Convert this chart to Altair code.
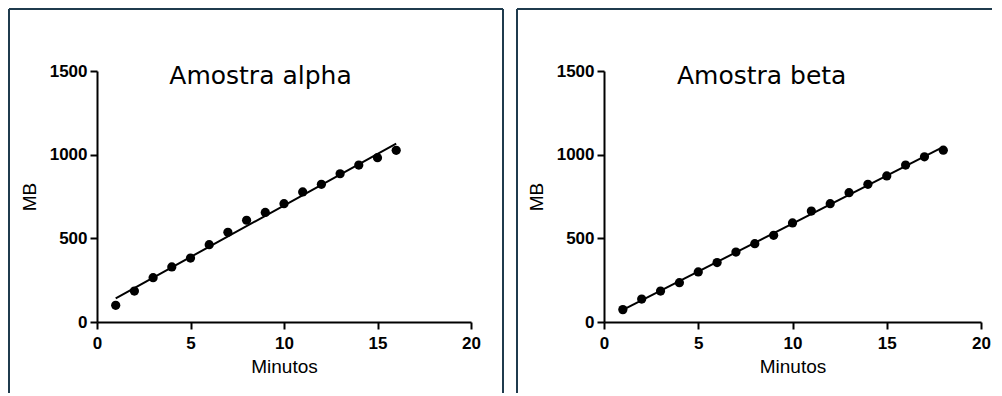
import altair as alt
import pandas as pd

# ---- data ----
alpha_min = [1, 2, 3, 4, 5, 6, 7, 8, 9, 10, 11, 12, 13, 14, 15, 16]
alpha_mb = [100, 185, 265, 329, 382, 462, 536, 608, 655, 707, 777, 823, 886, 938, 982, 1026]

beta_min = [1, 2, 3, 4, 5, 6, 7, 8, 9, 10, 11, 12, 13, 14, 15, 16, 17, 18]
beta_mb = [74, 137, 185, 235, 299, 355, 418, 468, 518, 592, 663, 707, 773, 823, 873, 938, 987, 1027]

titles = ["Amostra alpha", "Amostra beta"]
x_ticks = [0, 5, 10, 15, 20]
y_ticks = [0, 500, 1000, 1500]
x_title = "Minutos"
y_title = "MB"

FRAME = "#1f3b4d"
LABEL_FONT = "Liberation Sans"
BOTTOM = 322


def panel(xs, ys, title, width, title_x, frame_left, frame_right, top_end):
    df = pd.DataFrame({"Minutos": xs, "MB": ys})
    base = alt.Chart(df)
    xenc = alt.X(
        "Minutos:Q",
        scale=alt.Scale(domain=[0, 20], nice=False, zero=True),
        axis=alt.Axis(values=x_ticks, title=x_title, format="d", labelFlush=False,
                      labelPadding=6, titlePadding=6),
    )
    yenc = alt.Y(
        "MB:Q",
        scale=alt.Scale(domain=[0, 1500], nice=False),
        axis=alt.Axis(values=y_ticks, title=y_title, format="d", labelFlush=False,
                      labelPadding=3, titlePadding=10),
    )
    pts = base.mark_circle(size=85, color="black", opacity=1).encode(x=xenc, y=yenc)
    fit = (
        base.transform_regression("Minutos", "MB", extent=[xs[0], xs[-1]])
        .mark_line(color="black", strokeWidth=2)
        .encode(x="Minutos:Q", y="MB:Q")
    )
    one = alt.Data(values=[{"t": title}])
    ttl = alt.Chart(one).mark_text(
        align="center", baseline="alphabetic", fontSize=25, font="DejaVu Sans", color="black"
    ).encode(x=alt.value(title_x), y=alt.value(13), text="t:N")
    layers = [fit, pts, ttl]
    # panel frame (decoration)
    top = alt.Chart(one).mark_rule(color=FRAME, strokeWidth=2).encode(
        x=alt.value(frame_left), x2=alt.value(top_end), y=alt.value(-62))
    left = alt.Chart(one).mark_rule(color=FRAME, strokeWidth=2).encode(
        x=alt.value(frame_left), y=alt.value(-62), y2=alt.value(BOTTOM))
    layers += [top, left]
    if frame_right is not None:
        right = alt.Chart(one).mark_rule(color=FRAME, strokeWidth=2).encode(
            x=alt.value(frame_right), y=alt.value(-62), y2=alt.value(BOTTOM))
        layers.append(right)
    return alt.layer(*layers).properties(width=width, height=251)


left_panel = panel(alpha_min, alpha_mb, titles[0], 374, 163.5, -88, 406, 406)
right_panel = panel(beta_min, beta_mb, titles[1], 377, 157.7, -87, None, 388)

chart = (
    alt.hconcat(left_panel, right_panel, spacing=12)
    .properties(padding=0)
    .configure_view(stroke=None)
    .configure_axis(
        grid=False,
        domainColor="black",
        domainWidth=2,
        tickColor="black",
        tickWidth=2,
        tickSize=7,
        labelFont=LABEL_FONT,
        labelFontSize=17,
        labelFontWeight="bold",
        labelColor="black",
        titleFont=LABEL_FONT,
        titleFontSize=19,
        titleFontWeight="normal",
        titleColor="black",
        labelOverlap=False,
    )
)

chart.save("out.html", embed_options={"renderer": "svg", "actions": False})
